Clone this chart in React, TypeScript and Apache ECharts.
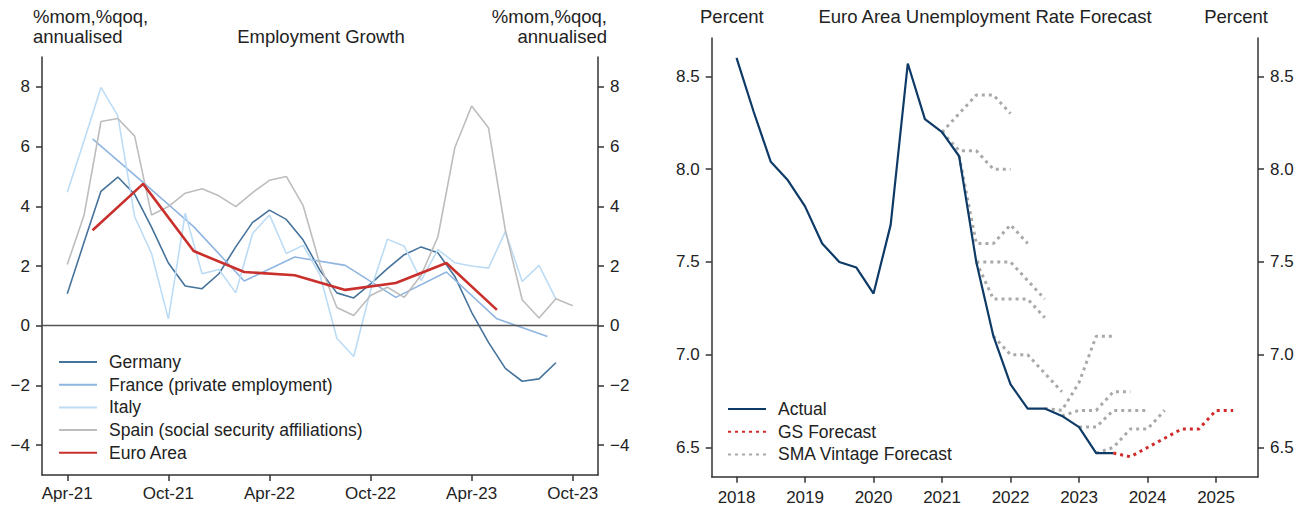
import React, { useEffect, useRef } from "react";
import * as echarts from "echarts";

// ---------- Left chart: Employment Growth ----------
const empTickMonths = [0, 6, 12, 18, 24, 30];
const empTickLabels = ["Apr-21", "Oct-21", "Apr-22", "Oct-22", "Apr-23", "Oct-23"];
const empYTicks = [-4, -2, 0, 2, 4, 6, 8];

// monthly series, index 0 = Apr-21
const germany = [1.07, 2.8, 4.5, 4.98, 4.4, 3.3, 2.1, 1.33, 1.24, 1.74, 2.64, 3.46, 3.87, 3.56, 2.87, 1.85, 1.1, 0.93, 1.4, 1.91, 2.38, 2.64, 2.44, 1.65, 0.45, -0.56, -1.43, -1.86, -1.78, -1.24];
const italy = [4.47, 6.2, 7.98, 7.03, 3.65, 2.42, 0.23, 3.77, 1.74, 1.88, 1.1, 3.09, 3.71, 2.42, 2.69, 1.7, -0.42, -1.03, 1.18, 2.9, 2.66, 1.52, 2.55, 2.11, 2.0, 1.93, 3.15, 1.48, 2.02, 0.9];
const spain = [2.05, 3.71, 6.84, 6.94, 6.35, 3.71, 3.99, 4.44, 4.59, 4.35, 3.99, 4.46, 4.87, 5.0, 4.02, 2.05, 0.61, 0.34, 1.01, 1.29, 0.95, 1.69, 2.98, 5.96, 7.36, 6.63, 3.2, 0.87, 0.26, 0.9, 0.67];
// quarterly series, plotted mid-quarter
const quarterMonths = [1.5, 4.5, 7.5, 10.5, 13.5, 16.5, 19.5, 22.5, 25.5, 28.5];
const franceQ = [6.26, 4.8, 3.32, 1.5, 2.3, 2.02, 0.95, 1.8, 0.23, -0.36];
const euroQ = [3.2, 4.75, 2.5, 1.8, 1.69, 1.2, 1.43, 2.1, 0.53];

// ---------- Right chart: Euro Area Unemployment ----------
const yearTicks = [2018, 2019, 2020, 2021, 2022, 2023, 2024, 2025];
const rateTicks = [6.5, 7.0, 7.5, 8.0, 8.5];
const actualStart = 2018;
const actual = [8.6, 8.31, 8.04, 7.94, 7.8, 7.6, 7.5, 7.47, 7.33, 7.7, 8.57, 8.27, 8.2, 8.07, 7.5, 7.1, 6.84, 6.71, 6.71, 6.67, 6.61, 6.47, 6.47];
const gsStart = 2023.5;
const gsForecast = [6.47, 6.45, 6.5, 6.55, 6.6, 6.6, 6.7, 6.7];
const smaStarts = [2021.0, 2021.0, 2021.25, 2021.5, 2021.5, 2021.75, 2022.5, 2022.75, 2023.0, 2023.25];
const smaVintages = [
  [8.2, 8.3, 8.4, 8.4, 8.3],
  [8.2, 8.1, 8.1, 8.0, 8.0],
  [8.07, 7.6, 7.6, 7.7, 7.6],
  [7.5, 7.5, 7.5, 7.4, 7.3],
  [7.5, 7.3, 7.3, 7.3, 7.2],
  [7.1, 7.0, 7.0, 6.9, 6.8],
  [6.71, 6.7, 6.85, 7.1, 7.1],
  [6.67, 6.7, 6.7, 6.8, 6.8],
  [6.61, 6.61, 6.7, 6.7, 6.7],
  [6.47, 6.5, 6.6, 6.6, 6.7],
];

const FONT = "'Liberation Sans', Arial, sans-serif";
const AX = "#333";
const TXT = "#222";
const TICK_FS = 17;
const HEAD_FS = 18.5;
const LEG_FS = 17.5;

const minusFmt = (v: number) => (v < 0 ? "\u2212" + String(-v) : String(v));

function axisBase() {
  return {
    axisLine: { show: true, onZero: false, lineStyle: { color: AX, width: 1.5 } },
    splitLine: { show: false },
  };
}

export default function App() {
  const ref = useRef<HTMLDivElement>(null);
  useEffect(() => {
    if (!ref.current) return;
    const chart = echarts.init(ref.current, null, { renderer: "svg" });

    const monthly = (arr: number[]) => arr.map((v, i) => [i, v]);
    const quarterly = (arr: number[]) => arr.map((v, i) => [quarterMonths[i], v]);
    const qSeries = (start: number, arr: number[]) => arr.map((v, i) => [start + i * 0.25, v]);

    const thin = (name: string, color: string, data: any[], w = 1.6, extra: any = {}) => ({
      name,
      type: "line",
      xAxisIndex: 0,
      yAxisIndex: 0,
      data,
      symbol: "none",
      showSymbol: false,
      lineStyle: { color, width: w },
      itemStyle: { color },
      ...extra,
    });

    const smaSeries = smaVintages.map((vals, k) => ({
      name: "SMA Vintage Forecast",
      type: "line",
      xAxisIndex: 1,
      yAxisIndex: 2,
      data: qSeries(smaStarts[k], vals),
      symbol: "none",
      showSymbol: false,
      lineStyle: { color: "#a9a9a9", width: 3, type: [3, 4] },
      itemStyle: { color: "#a9a9a9" },
      z: 2,
    }));

    const legendBase = {
      orient: "vertical",
      padding: 0,
      itemWidth: 38,
      itemHeight: 12,
      itemGap: 4.7,
      itemStyle: { color: "rgba(0,0,0,0)", borderWidth: 0 },
      textStyle: { fontSize: LEG_FS, color: TXT, fontFamily: FONT, padding: [0, 0, 0, 7] },
    };

    const yLabel = (fmt: any, ticks: number[]) => ({
      customValues: ticks,
      formatter: fmt,
      fontSize: TICK_FS,
      color: TXT,
      margin: 12,
      fontFamily: FONT,
    });
    const tick = (ticks: number[]) => ({ show: true, customValues: ticks, length: 6, lineStyle: { color: AX, width: 1.5 } });

    const option: any = {
      animation: false,
      textStyle: { fontFamily: FONT },
      grid: [
        { left: 42, top: 57, width: 556, height: 418 },
        { left: 711.7, top: 38, width: 546.3, height: 438.7 },
      ],
      xAxis: [
        {
          type: "value",
          gridIndex: 0,
          min: -1.5,
          max: 31.5,
          ...axisBase(),
          axisTick: tick(empTickMonths),
          axisLabel: {
            customValues: empTickMonths,
            formatter: (v: number) => empTickLabels[empTickMonths.indexOf(Math.round(v))] ?? "",
            fontSize: TICK_FS,
            color: TXT,
            margin: 10,
            fontFamily: FONT,
          },
        },
        {
          type: "value",
          gridIndex: 1,
          min: 2017.6375,
          max: 2025.6125,
          ...axisBase(),
          axisTick: tick(yearTicks),
          axisLabel: {
            customValues: yearTicks,
            formatter: (v: number) => String(Math.round(v)),
            fontSize: TICK_FS,
            color: TXT,
            margin: 12,
            fontFamily: FONT,
          },
        },
      ],
      yAxis: [
        { type: "value", gridIndex: 0, position: "left", min: -5, max: 9, ...axisBase(), axisTick: tick(empYTicks), axisLabel: yLabel(minusFmt, empYTicks) },
        { type: "value", gridIndex: 0, position: "right", min: -5, max: 9, ...axisBase(), axisTick: tick(empYTicks), axisLabel: yLabel(minusFmt, empYTicks) },
        { type: "value", gridIndex: 1, position: "left", min: 6.3425, max: 8.7075, ...axisBase(), axisTick: tick(rateTicks), axisLabel: yLabel((v: number) => v.toFixed(1), rateTicks) },
        { type: "value", gridIndex: 1, position: "right", min: 6.3425, max: 8.7075, ...axisBase(), axisTick: tick(rateTicks), axisLabel: yLabel((v: number) => v.toFixed(1), rateTicks) },
      ],
      legend: [
        {
          ...legendBase,
          left: 58,
          top: 353,
          data: ["Germany", "France (private employment)", "Italy", "Spain (social security affiliations)", "Euro Area"],
        },
        {
          ...legendBase,
          left: 727,
          top: 400,
          data: ["Actual", "GS Forecast", "SMA Vintage Forecast"],
        },
      ],
      graphic: [
        { type: "text", x: 33, y: 16, style: { text: "%mom,%qoq,", font: `${HEAD_FS}px ${FONT}`, fill: TXT, textVerticalAlign: "middle" } },
        { type: "text", x: 33, y: 36, style: { text: "annualised", font: `${HEAD_FS}px ${FONT}`, fill: TXT, textVerticalAlign: "middle" } },
        { type: "text", x: 321, y: 36, style: { text: "Employment Growth", font: `${HEAD_FS}px ${FONT}`, fill: TXT, textAlign: "center", textVerticalAlign: "middle" } },
        { type: "text", x: 607, y: 16, style: { text: "%mom,%qoq,", font: `${HEAD_FS}px ${FONT}`, fill: TXT, textAlign: "right", textVerticalAlign: "middle" } },
        { type: "text", x: 607, y: 36, style: { text: "annualised", font: `${HEAD_FS}px ${FONT}`, fill: TXT, textAlign: "right", textVerticalAlign: "middle" } },
        { type: "text", x: 700, y: 16, style: { text: "Percent", font: `${HEAD_FS}px ${FONT}`, fill: TXT, textVerticalAlign: "middle" } },
        { type: "text", x: 985, y: 16, style: { text: "Euro Area Unemployment Rate Forecast", font: `${HEAD_FS}px ${FONT}`, fill: TXT, textAlign: "center", textVerticalAlign: "middle" } },
        { type: "text", x: 1268, y: 16, style: { text: "Percent", font: `${HEAD_FS}px ${FONT}`, fill: TXT, textAlign: "right", textVerticalAlign: "middle" } },
      ],
      series: [
        thin("Germany", "#46739b", monthly(germany), 1.6, {
          markLine: {
            silent: true,
            symbol: ["none", "none"],
            label: { show: false },
            lineStyle: { color: "#555", width: 1.4, type: "solid" },
            data: [{ yAxis: 0 }],
          },
        }),
        thin("France (private employment)", "#8fb5e0", quarterly(franceQ)),
        thin("Italy", "#bcdcf5", monthly(italy)),
        thin("Spain (social security affiliations)", "#bdbdbd", monthly(spain)),
        thin("Euro Area", "#c9302c", quarterly(euroQ), 2.6, { z: 5 }),
        {
          name: "Actual",
          type: "line",
          xAxisIndex: 1,
          yAxisIndex: 2,
          data: qSeries(actualStart, actual),
          symbol: "none",
          showSymbol: false,
          lineStyle: { color: "#0d3a66", width: 2.2 },
          itemStyle: { color: "#0d3a66" },
          z: 3,
        },
        {
          name: "GS Forecast",
          type: "line",
          xAxisIndex: 1,
          yAxisIndex: 2,
          data: qSeries(gsStart, gsForecast),
          symbol: "none",
          showSymbol: false,
          lineStyle: { color: "#d02a2a", width: 3, type: [3, 4] },
          itemStyle: { color: "#d02a2a" },
          z: 4,
        },
        ...smaSeries,
      ],
    };
    chart.setOption(option);
    return () => chart.dispose();
  }, []);
  return (
    <div
      ref={ref}
      style={{ position: "fixed", left: 0, top: 0, width: 1308, height: 510, background: "#fff" }}
    />
  );
}
